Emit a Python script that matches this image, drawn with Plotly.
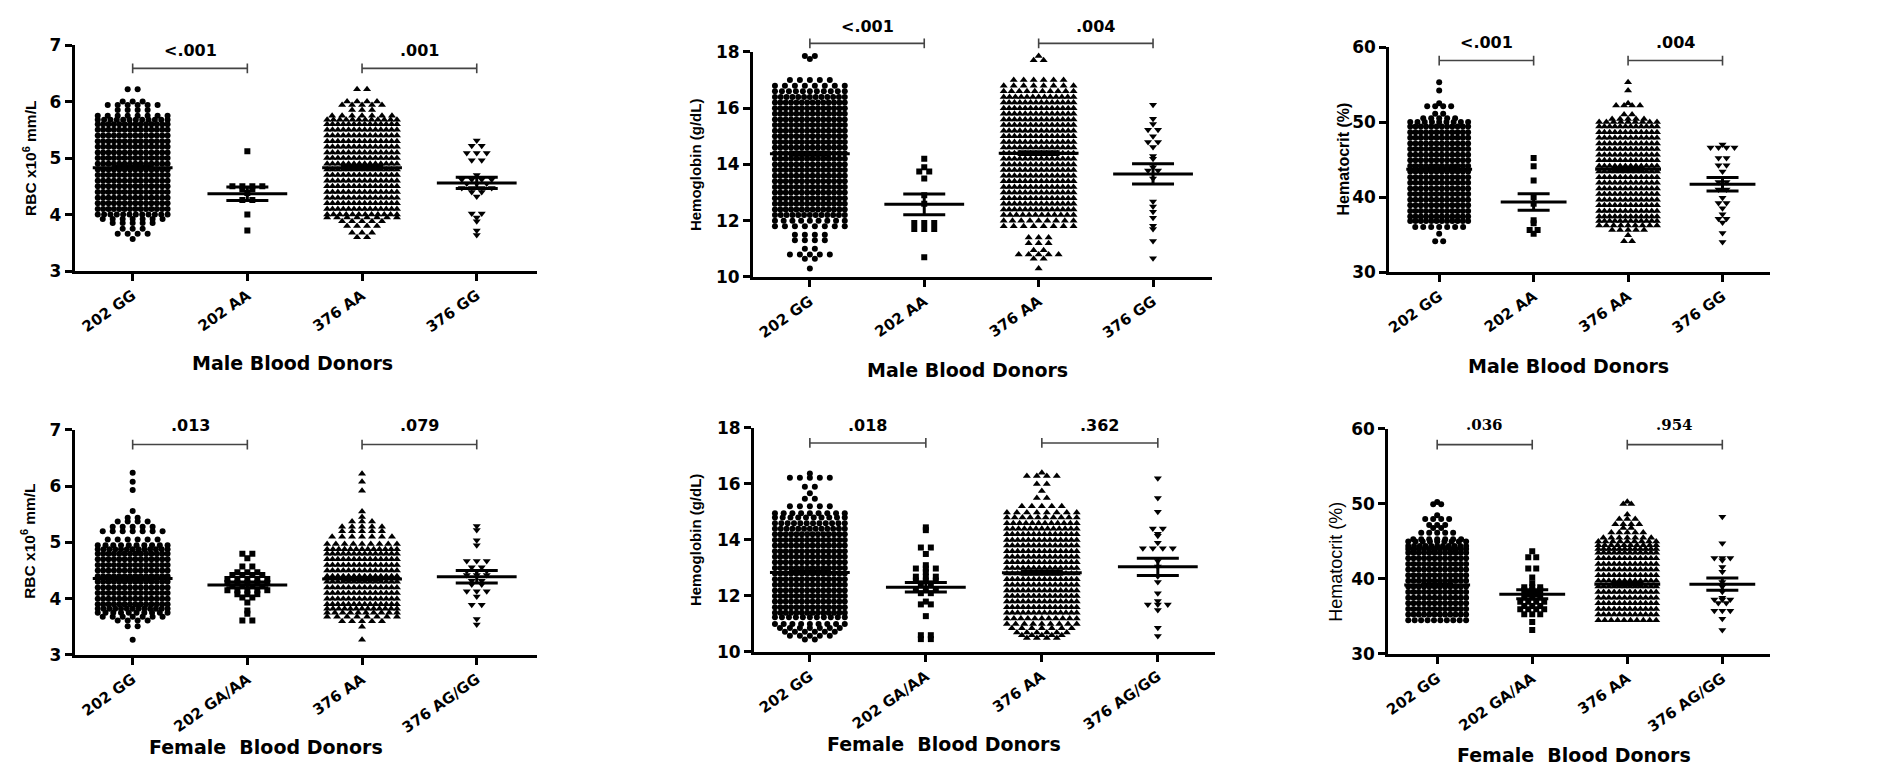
import plotly.graph_objects as go

W, H = 1881, 775

# ------------------------------------------------------------------ data
MALE_CATS = ["202 GG", "202 AA", "376 AA", "376 GG"]
FEMALE_CATS = ["202 GG", "202 GA/AA", "376 AA", "376 AG/GG"]

# Male RBC (x10^6 mm/L): value rows and number of donors in each row
M_RBC_GG_V = [6.22, 6.0, 5.94, 5.85, 5.75, 5.68, 5.6, 5.5, 5.4, 5.3, 5.2, 5.1, 5.0, 4.9, 4.8, 4.7, 4.6, 4.5, 4.4, 4.3, 4.2, 4.1, 4.0, 3.92, 3.85, 3.75, 3.66, 3.57]
M_RBC_GG_N = [2, 3, 6, 4, 8, 12, 14, 14, 14, 14, 14, 14, 14, 14, 14, 14, 14, 14, 14, 14, 14, 14, 12, 7, 5, 3, 4, 1]
M_RBC_AA202_V = [5.12, 4.5, 4.45, 4.38, 4.26, 4.0, 3.72]
M_RBC_AA202_N = [1, 4, 2, 1, 2, 1, 1]
M_RBC_AA376_V = [6.22, 6.0, 5.94, 5.85, 5.75, 5.68, 5.6, 5.5, 5.4, 5.3, 5.2, 5.1, 5.0, 4.9, 4.8, 4.7, 4.6, 4.5, 4.4, 4.3, 4.2, 4.1, 4.0, 3.95, 3.88, 3.8, 3.68, 3.6]
M_RBC_AA376_N = [2, 4, 5, 3, 7, 12, 14, 14, 14, 14, 14, 14, 14, 14, 14, 14, 14, 14, 14, 14, 14, 14, 12, 8, 5, 4, 3, 2]
M_RBC_GG376_V = [5.31, 5.22, 5.09, 4.96, 4.7, 4.62, 4.55, 4.47, 4.4, 4.32, 4.02, 3.95, 3.88, 3.72, 3.64]
M_RBC_GG376_N = [1, 2, 3, 2, 1, 4, 3, 4, 2, 1, 2, 1, 1, 1, 1]
M_RBC_MEAN = [4.83, 4.37, 4.83, 4.56]
M_RBC_SEM = [0.02, 0.12, 0.02, 0.10]
M_RBC_P = ["<.001", ".001"]

# Male hemoglobin (g/dL)
M_HB_GG_V = [17.85, 17.75, 17.0, 16.8, 16.6, 16.4, 16.2, 16.0, 15.8, 15.6, 15.4, 15.2, 15.0, 14.8, 14.6, 14.4, 14.2, 14.0, 13.8, 13.6, 13.4, 13.2, 13.0, 12.8, 12.6, 12.4, 12.2, 12.0, 11.8, 11.5, 11.3, 11.0, 10.8, 10.65, 10.3]
M_HB_GG_N = [2, 1, 5, 8, 11, 13, 14, 14, 14, 14, 14, 14, 14, 14, 14, 14, 14, 14, 14, 14, 14, 14, 14, 14, 14, 14, 13, 9, 8, 4, 4, 2, 5, 2, 1]
M_HB_AA202_V = [14.2, 13.9, 13.75, 13.5, 12.9, 12.6, 11.92, 11.7, 10.7]
M_HB_AA202_N = [1, 1, 2, 1, 1, 1, 3, 3, 1]
M_HB_AA376_V = [17.85, 17.7, 17.0, 16.8, 16.6, 16.4, 16.2, 16.0, 15.8, 15.6, 15.4, 15.2, 15.0, 14.8, 14.6, 14.4, 14.2, 14.0, 13.8, 13.6, 13.4, 13.2, 13.0, 12.8, 12.6, 12.4, 12.2, 12.0, 11.8, 11.4, 11.2, 10.95, 10.8, 10.65, 10.3]
M_HB_AA376_N = [1, 2, 6, 8, 10, 13, 14, 14, 14, 14, 14, 14, 14, 14, 14, 14, 14, 14, 14, 14, 14, 14, 14, 14, 14, 14, 12, 9, 8, 3, 3, 2, 5, 2, 1]
M_HB_GG376_V = [16.12, 15.62, 15.44, 15.23, 15.0, 14.8, 14.62, 14.3, 14.2, 13.9, 13.78, 13.5, 12.68, 12.5, 12.32, 12.1, 11.82, 11.7, 11.28, 10.66]
M_HB_GG376_N = [1, 1, 1, 2, 1, 2, 1, 1, 1, 1, 2, 1, 1, 1, 1, 1, 1, 1, 1, 1]
M_HB_MEAN = [14.38, 12.58, 14.40, 13.66]
M_HB_SEM = [0.05, 0.37, 0.05, 0.36]
M_HB_P = ["<.001", ".004"]

# Male hematocrit (%)
M_HCT_GG_V = [55.3, 54.2, 52.5, 52.1, 51.1, 50.5, 50.0, 49.4, 48.65, 47.9, 47.15, 46.4, 45.65, 44.9, 44.15, 43.4, 42.65, 41.9, 41.15, 40.4, 39.65, 38.9, 38.15, 37.4, 36.8, 36.0, 35.1, 34.1]
M_HCT_GG_N = [1, 1, 1, 4, 2, 5, 9, 12, 12, 12, 12, 12, 12, 12, 12, 12, 12, 12, 12, 12, 12, 12, 12, 12, 12, 7, 1, 2]
M_HCT_AA202_V = [45.2, 44.1, 42.2, 40.0, 39.1, 36.9, 36.5, 35.6, 35.1]
M_HCT_AA202_N = [1, 1, 1, 1, 1, 1, 1, 2, 1]
M_HCT_AA376_V = [55.3, 54.2, 52.5, 52.2, 51.0, 50.4, 50.0, 49.4, 48.65, 47.9, 47.15, 46.4, 45.65, 44.9, 44.15, 43.4, 42.65, 41.9, 41.15, 40.4, 39.65, 38.9, 38.15, 37.4, 36.8, 36.2, 35.6, 34.9, 34.1]
M_HCT_AA376_N = [1, 1, 1, 4, 2, 5, 9, 12, 12, 12, 12, 12, 12, 12, 12, 12, 12, 12, 12, 12, 12, 12, 12, 12, 12, 9, 5, 1, 2]
M_HCT_GG376_V = [47.0, 46.6, 45.2, 44.25, 43.4, 42.0, 41.0, 39.9, 39.2, 38.5, 37.7, 37.1, 36.6, 35.2, 34.0]
M_HCT_GG376_N = [1, 4, 2, 2, 1, 2, 2, 1, 2, 1, 1, 2, 1, 1, 1]
M_HCT_MEAN = [43.7, 39.35, 43.7, 41.7]
M_HCT_SEM = [0.15, 1.1, 0.15, 0.9]
M_HCT_P = ["<.001", ".004"]

# Female RBC
F_RBC_GG_V = [6.24, 6.08, 5.93, 5.56, 5.44, 5.37, 5.28, 5.2, 5.05, 4.95, 4.88, 4.8, 4.7, 4.6, 4.5, 4.4, 4.3, 4.2, 4.1, 4.0, 3.9, 3.82, 3.75, 3.68, 3.61, 3.51, 3.27]
F_RBC_GG_N = [1, 1, 1, 1, 2, 4, 5, 7, 6, 10, 13, 14, 14, 14, 14, 14, 14, 14, 14, 14, 14, 13, 10, 7, 4, 2, 1]
F_RBC_GA_V = [4.8, 4.72, 4.57, 4.47, 4.42, 4.35, 4.28, 4.22, 4.15, 4.08, 4.02, 3.93, 3.79, 3.73, 3.61]
F_RBC_GA_N = [2, 1, 2, 3, 4, 5, 5, 4, 5, 3, 2, 1, 1, 1, 2]
F_RBC_AA_V = [6.22, 6.08, 5.92, 5.55, 5.45, 5.37, 5.28, 5.2, 5.1, 4.97, 4.88, 4.8, 4.7, 4.6, 4.5, 4.4, 4.3, 4.2, 4.1, 4.0, 3.9, 3.82, 3.75, 3.68, 3.6, 3.5, 3.27]
F_RBC_AA_N = [1, 1, 1, 1, 1, 3, 5, 5, 7, 9, 13, 14, 14, 14, 14, 14, 14, 14, 14, 14, 14, 13, 10, 8, 5, 1, 1]
F_RBC_AG_V = [5.29, 5.22, 5.04, 4.95, 4.67, 4.56, 4.49, 4.42, 4.32, 4.25, 4.13, 4.04, 3.89, 3.64, 3.54]
F_RBC_AG_N = [1, 1, 1, 1, 3, 2, 3, 3, 2, 2, 3, 1, 2, 1, 1]
F_RBC_MEAN = [4.36, 4.245, 4.35, 4.39]
F_RBC_SEM = [0.02, 0.05, 0.02, 0.11]
F_RBC_P = [".013", ".079"]

# Female hemoglobin
F_HB_GG_V = [16.37, 16.22, 15.9, 15.67, 15.47, 15.2, 14.95, 14.8, 14.6, 14.4, 14.2, 14.0, 13.8, 13.6, 13.4, 13.2, 13.0, 12.8, 12.6, 12.4, 12.2, 12.0, 11.8, 11.6, 11.4, 11.24, 11.0, 10.86, 10.72, 10.58, 10.45]
F_HB_GG_N = [1, 5, 2, 1, 2, 5, 9, 10, 12, 13, 14, 14, 14, 14, 14, 14, 14, 14, 14, 14, 14, 14, 14, 14, 14, 11, 9, 7, 6, 5, 2]
F_HB_GA_V = [14.45, 14.35, 13.73, 13.5, 13.1, 12.98, 12.85, 12.69, 12.55, 12.45, 12.25, 12.1, 11.8, 11.7, 11.28, 10.6, 10.46]
F_HB_GA_N = [1, 1, 2, 1, 1, 3, 1, 3, 3, 2, 3, 2, 1, 2, 1, 2, 2]
F_HB_AA_V = [16.4, 16.28, 16.0, 15.75, 15.5, 15.2, 14.98, 14.8, 14.6, 14.4, 14.2, 14.0, 13.8, 13.6, 13.4, 13.2, 13.0, 12.8, 12.6, 12.4, 12.2, 12.0, 11.8, 11.6, 11.4, 11.2, 11.0, 10.85, 10.7, 10.6, 10.5]
F_HB_AA_N = [1, 4, 2, 1, 2, 5, 8, 10, 12, 13, 14, 14, 14, 14, 14, 14, 14, 14, 14, 14, 14, 14, 14, 14, 14, 11, 9, 7, 6, 5, 4]
F_HB_AG_V = [16.2, 15.5, 15.01, 14.41, 14.22, 14.15, 13.9, 13.7, 13.25, 13.05, 12.7, 12.5, 12.1, 11.82, 11.7, 11.5, 10.87, 10.57]
F_HB_AG_N = [1, 1, 1, 2, 1, 1, 1, 4, 1, 1, 1, 1, 1, 1, 3, 1, 1, 1]
F_HB_MEAN = [12.84, 12.31, 12.83, 13.04]
F_HB_SEM = [0.05, 0.17, 0.05, 0.31]
F_HB_P = [".018", ".362"]

# Female hematocrit
F_HCT_GG_V = [50.26, 49.96, 48.5, 47.99, 47.2, 46.8, 46.15, 45.3, 45.0, 44.4, 44.0, 43.5, 42.75, 42.0, 41.25, 40.5, 39.75, 39.0, 38.25, 37.5, 36.75, 36.0, 35.25, 34.5]
F_HCT_GG_N = [1, 2, 1, 4, 3, 2, 5, 7, 9, 11, 12, 12, 12, 12, 12, 12, 12, 12, 12, 12, 12, 12, 12, 10]
F_HCT_GA_V = [43.7, 42.9, 41.4, 40.2, 39.44, 38.9, 38.5, 38.0, 37.5, 36.97, 36.4, 35.97, 35.3, 34.25, 33.2]
F_HCT_GA_N = [1, 2, 2, 1, 1, 3, 3, 2, 3, 4, 3, 4, 3, 1, 1]
F_HCT_AA_V = [50.3, 50.0, 48.6, 48.0, 47.3, 46.8, 46.2, 45.5, 45.0, 44.5, 44.0, 43.5, 42.75, 42.0, 41.25, 40.5, 39.75, 39.0, 38.25, 37.5, 36.75, 36.0, 35.25, 34.5]
F_HCT_AA_N = [1, 2, 1, 3, 4, 2, 5, 7, 9, 10, 12, 12, 12, 12, 12, 12, 12, 12, 12, 12, 12, 12, 12, 10]
F_HCT_AG_V = [48.3, 44.77, 42.8, 42.5, 41.6, 40.95, 39.6, 39.0, 38.3, 37.5, 37.27, 36.8, 35.75, 34.68, 33.2]
F_HCT_AG_N = [1, 1, 3, 1, 1, 1, 1, 1, 1, 1, 3, 2, 3, 1, 1]
F_HCT_MEAN = [39.2, 37.95, 39.3, 39.3]
F_HCT_SEM = [0.12, 0.6, 0.12, 0.82]
F_HCT_P = [".036", ".954"]

# ------------------------------------------------------------------ layout
SYMBOLS = ["circle", "square", "triangle-up", "triangle-down"]
MSIZE = [6, 6, 7, 7]

SANS = "DejaVu Sans"
ARIAL = "Liberation Sans"

PANELS = [
    dict(cats=MALE_CATS,
         groups=[(M_RBC_GG_V, M_RBC_GG_N), (M_RBC_AA202_V, M_RBC_AA202_N), (M_RBC_AA376_V, M_RBC_AA376_N), (M_RBC_GG376_V, M_RBC_GG376_N)],
         mean=M_RBC_MEAN, sem=M_RBC_SEM, p=M_RBC_P,
         px=(70, 533), py=(36, 268), yr=(3, 7), dtick=1, c0=128, cs=115.0, kind="wide",
         ytitle="RBC x10<sup>6</sup> mm/L", yt=(25, 152), ytfont=dict(family=ARIAL, size=15.5, weight="bold"),
         xtitle="Male Blood Donors", xt=(288, 362),
         br=0.897, pt=0.974, pfont=SANS),
    dict(cats=MALE_CATS,
         groups=[(M_HB_GG_V, M_HB_GG_N), (M_HB_AA202_V, M_HB_AA202_N), (M_HB_AA376_V, M_HB_AA376_N), (M_HB_GG376_V, M_HB_GG376_N)],
         mean=M_HB_MEAN, sem=M_HB_SEM, p=M_HB_P,
         px=(750, 1210), py=(43, 274), yr=(10, 18), dtick=2, c0=807, cs=114.7, kind="wide",
         ytitle="Hemoglobin (g/dL)", yt=(693, 159), ytfont=dict(family=ARIAL, size=15, weight="bold"),
         xtitle="Male Blood Donors", xt=(965, 370),
         br=1.038, pt=1.114, pfont=SANS),
    dict(cats=MALE_CATS,
         groups=[(M_HCT_GG_V, M_HCT_GG_N), (M_HCT_AA202_V, M_HCT_AA202_N), (M_HCT_AA376_V, M_HCT_AA376_N), (M_HCT_GG376_V, M_HCT_GG376_N)],
         mean=M_HCT_MEAN, sem=M_HCT_SEM, p=M_HCT_P,
         px=(1388, 1770), py=(38, 269), yr=(30, 60), dtick=10, c0=1438, cs=94.7, kind="narrow",
         ytitle="Hematocrit (%)", yt=(1342, 153), ytfont=dict(family=ARIAL, size=16, weight="bold"),
         xtitle="Male Blood Donors", xt=(1568, 365),
         br=0.94, pt=1.02, pfont=SANS),
    dict(cats=FEMALE_CATS,
         groups=[(F_RBC_GG_V, F_RBC_GG_N), (F_RBC_GA_V, F_RBC_GA_N), (F_RBC_AA_V, F_RBC_AA_N), (F_RBC_AG_V, F_RBC_AG_N)],
         mean=F_RBC_MEAN, sem=F_RBC_SEM, p=F_RBC_P,
         px=(70, 533), py=(431, 662), yr=(3, 7), dtick=1, c0=128, cs=115.0, kind="wide",
         ytitle="RBC x10<sup>6</sup> mm/L", yt=(23, 545), ytfont=dict(family=ARIAL, size=15.5, weight="bold"),
         xtitle="Female\u00a0 Blood Donors", xt=(262, 757),
         br=0.935, pt=1.018, pfont=SANS),
    dict(cats=FEMALE_CATS,
         groups=[(F_HB_GG_V, F_HB_GG_N), (F_HB_GA_V, F_HB_GA_N), (F_HB_AA_V, F_HB_AA_N), (F_HB_AG_V, F_HB_AG_N)],
         mean=F_HB_MEAN, sem=F_HB_SEM, p=F_HB_P,
         px=(751, 1213), py=(429, 659), yr=(10, 18), dtick=2, c0=807, cs=116.3, kind="wide",
         ytitle="Hemoglobin (g/dL)", yt=(693, 544), ytfont=dict(family=ARIAL, size=15, weight="bold"),
         xtitle="Female\u00a0 Blood Donors", xt=(942, 753),
         br=0.933, pt=1.01, pfont=SANS),
    dict(cats=FEMALE_CATS,
         groups=[(F_HCT_GG_V, F_HCT_GG_N), (F_HCT_GA_V, F_HCT_GA_N), (F_HCT_AA_V, F_HCT_AA_N), (F_HCT_AG_V, F_HCT_AG_N)],
         mean=F_HCT_MEAN, sem=F_HCT_SEM, p=F_HCT_P,
         px=(1387, 1770), py=(430, 661), yr=(30, 60), dtick=10, c0=1436, cs=95.3, kind="narrow",
         ytitle="Hematocrit (%)", yt=(1335, 566), ytfont=dict(family=ARIAL, size=18),
         xtitle="Female\u00a0 Blood Donors", xt=(1573, 765),
         br=0.93, pt=1.017, pfont="DejaVu Serif"),
]

KIND = {
    "wide": dict(sparse=10.0, maxw=70.0, meanhw=40.0, caphw=21),
    "narrow": dict(sparse=8.0, maxw=58.0, meanhw=33.0, caphw=16),
}


def swarm(idx, vals, cnts, cs, sparse, maxw):
    """Centre the donors of each value row around the category, Prism style."""
    xs, ys = [], []
    for v, n in zip(vals, cnts):
        step = sparse if n <= 1 else min(sparse, maxw / (n - 1))
        for k in range(n):
            off = (k - (n - 1) / 2.0) * step
            xs.append(idx + off / cs)
            ys.append(v)
    return xs, ys


fig = go.Figure()
shapes, annots = [], []
layout = dict(width=W, height=H, margin=dict(l=0, r=0, t=0, b=0),
              paper_bgcolor="white", plot_bgcolor="white", showlegend=False)

for p, P in enumerate(PANELS, start=1):
    xa = "x" if p == 1 else f"x{p}"
    ya = "y" if p == 1 else f"y{p}"
    K = KIND[P["kind"]]
    cs = P["cs"]
    x_lo = (P["px"][0] - P["c0"]) / cs
    x_hi = (P["px"][1] - P["c0"]) / cs

    layout["xaxis" if p == 1 else f"xaxis{p}"] = dict(
        domain=[P["px"][0] / W, P["px"][1] / W], range=[x_lo, x_hi], anchor=ya,
        tickmode="array", tickvals=[0, 1, 2, 3], ticktext=P["cats"], tickangle=-35,
        tickfont=dict(family=SANS, size=15, color="black", weight="bold"),
        showline=True, linewidth=3, linecolor="black", ticks="outside", ticklen=7,
        tickwidth=3, tickcolor="black", showgrid=False, zeroline=False, fixedrange=True)
    layout["yaxis" if p == 1 else f"yaxis{p}"] = dict(
        domain=[1 - P["py"][1] / H, 1 - P["py"][0] / H], range=list(P["yr"]), anchor=xa,
        tickmode="linear", tick0=P["yr"][0], dtick=P["dtick"],
        tickfont=dict(family=SANS, size=17, color="black", weight="bold"),
        showline=True, linewidth=3, linecolor="black", ticks="outside", ticklen=7,
        tickwidth=3, tickcolor="black", showgrid=False, zeroline=False, fixedrange=True)

    for g, (vals, cnts) in enumerate(P["groups"]):
        xs, ys = swarm(g, vals, cnts, cs, K["sparse"], K["maxw"])
        fig.add_trace(go.Scatter(
            x=xs, y=ys, xaxis=xa, yaxis=ya, mode="markers", hoverinfo="skip",
            marker=dict(symbol=SYMBOLS[g], size=MSIZE[g], color="black", line=dict(width=0))))
        hw = K["meanhw"] / cs
        m = P["mean"][g]
        fig.add_trace(go.Scatter(
            x=[g - hw, g + hw], y=[m, m], xaxis=xa, yaxis=ya, mode="lines",
            line=dict(color="black", width=3), hoverinfo="skip"))
        fig.add_trace(go.Scatter(
            x=[g], y=[m], xaxis=xa, yaxis=ya, mode="markers", hoverinfo="skip",
            marker=dict(size=1, color="rgba(0,0,0,0)"),
            error_y=dict(type="data", array=[P["sem"][g]], visible=True,
                         thickness=3, width=K["caphw"], color="black")))

    # significance brackets
    ydom = f"{ya} domain"
    tick = 5.0 / (P["py"][1] - P["py"][0])
    for b, (a, c) in enumerate([(0, 1), (2, 3)]):
        shapes.append(dict(type="line", xref=xa, yref=ydom, x0=a, x1=c, y0=P["br"], y1=P["br"],
                           line=dict(color="#444", width=1.6)))
        for e in (a, c):
            shapes.append(dict(type="line", xref=xa, yref=ydom, x0=e, x1=e,
                               y0=P["br"] - tick, y1=P["br"] + tick,
                               line=dict(color="#444", width=1.6)))
        annots.append(dict(text=P["p"][b], xref=xa, yref=ydom, x=(a + c) / 2.0, y=P["pt"],
                           showarrow=False, xanchor="center", yanchor="middle",
                           font=dict(family=P["pfont"], size=16 if P["pfont"] == SANS else 15,
                                     color="black", weight="bold")))

    annots.append(dict(text=P["ytitle"], xref="paper", yref="paper",
                       x=P["yt"][0] / W, y=1 - P["yt"][1] / H, textangle=-90,
                       showarrow=False, xanchor="center", yanchor="middle",
                       font=dict(color="black", **P["ytfont"])))
    annots.append(dict(text=P["xtitle"], xref="paper", yref="paper",
                       x=P["xt"][0] / W, y=1 - P["xt"][1] / H,
                       showarrow=False, xanchor="center", yanchor="middle",
                       font=dict(family=SANS, size=19, color="black", weight="bold")))

layout["shapes"] = shapes
layout["annotations"] = annots
fig.update_layout(**layout)
fig.write_html("out.html", config={"displayModeBar": False})
